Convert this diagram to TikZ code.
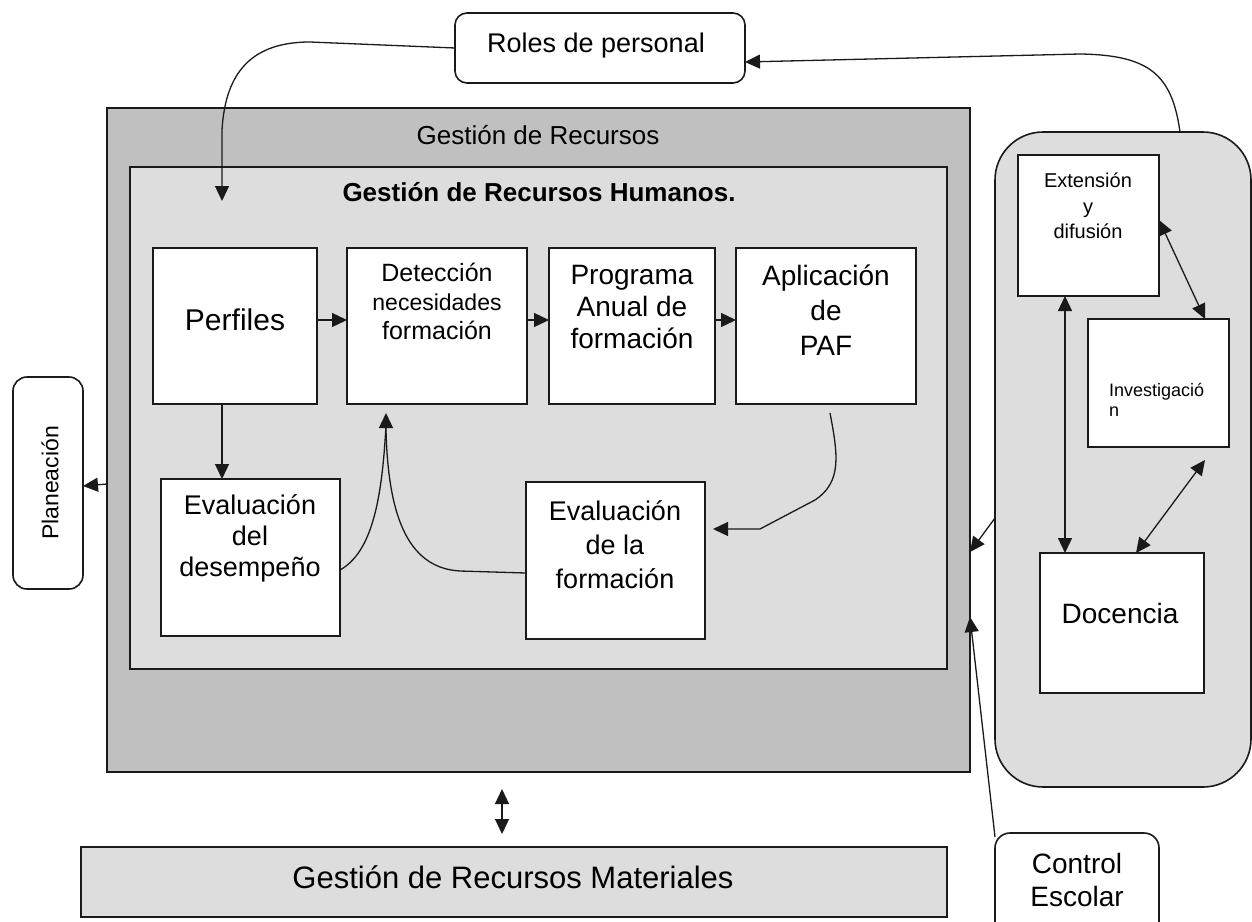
\documentclass[tikz,border=0pt]{standalone}
\usepackage{fontspec}
\setmainfont{Liberation Sans}
\usetikzlibrary{arrows.meta,calc}
\newcommand{\fsz}[1]{\fontsize{#1}{#1}\selectfont}
\definecolor{outergray}{HTML}{C0C0C0}
\definecolor{innergray}{HTML}{DDDDDD}
\definecolor{edge}{HTML}{1A1A1A}
\tikzset{
  bx/.style={draw=edge, line width=1.6pt, inner sep=0pt, outer sep=0pt, fill=white},
  txt/.style={inner sep=0pt, outer sep=0pt, align=center, text=black},
  conn/.style={draw=edge, line width=1.3pt},
  arr/.style={conn, -{Triangle[length=15pt,width=14pt]}},
  darr/.style={conn, {Triangle[length=15pt,width=14pt]}-{Triangle[length=15pt,width=14pt]}},
}
\begin{document}
\begin{tikzpicture}[x=1pt,y=-1pt]
\clip (0,0) rectangle (1252,921);
\fill[white] (0,0) rectangle (1252,921);

% containers
\node[bx, fill=outergray, minimum width=863pt, minimum height=664pt] (outer) at (538.5,440) {};
\node[bx, fill=innergray, minimum width=817pt, minimum height=502pt] (inner) at (538.5,418) {};
\node[bx, fill=innergray, rounded corners=48pt, minimum width=256pt, minimum height=655pt] (cont) at (1123,459.5) {};
\node[bx, fill=innergray, minimum width=866pt, minimum height=70pt] (mat) at (514,882) {};

% boxes
\node[bx, rounded corners=12pt, minimum width=290pt, minimum height=70pt] (roles) at (600,48) {};
\node[bx, rounded corners=14pt, minimum width=70pt, minimum height=212pt] (plan) at (48,483) {};
\node[bx, minimum width=164pt, minimum height=156pt] (perf) at (235,326) {};
\node[bx, minimum width=180pt, minimum height=156pt] (det) at (437,326) {};
\node[bx, minimum width=166pt, minimum height=156pt] (prog) at (632,326) {};
\node[bx, minimum width=180pt, minimum height=156pt] (apl) at (826,326) {};
\node[bx, minimum width=179pt, minimum height=157pt] (evd) at (250.5,557.5) {};
\node[bx, minimum width=179pt, minimum height=157pt] (evf) at (615.5,560.5) {};
\node[bx, minimum width=141pt, minimum height=141pt] (ext) at (1088.5,225.5) {};
\node[bx, minimum width=141pt, minimum height=128pt] (inv) at (1158.5,383) {};
\node[bx, minimum width=164pt, minimum height=140pt] (doc) at (1122,623) {};
\node[bx, rounded corners=15pt, minimum width=164pt, minimum height=117pt] (ctrl) at (1077,891.5) {};

% texts
\node[txt] (tRoles) at (596,46) {\fsz{27}Roles de personal};
\node[txt] (tOuter) at (538,135) {\fsz{26}Gestión de Recursos};
\node[txt] (tInner) at (539,192) {\fsz{26}\bfseries Gestión de Recursos Humanos.};
\node[txt] (tPerf) at (235,320) {\fsz{30}Perfiles};
\node[txt, font=\fontsize{25}{29}\selectfont] (tDet) at (437,301) {Detección\\\fontsize{23}{29}\selectfont necesidades\\\fontsize{25}{29}\selectfont formación};
\node[txt, font=\fontsize{28}{32}\selectfont] (tProg) at (632,307) {Programa\\Anual de\\formación};
\node[txt, font=\fontsize{28}{35}\selectfont] (tApl) at (826,310) {Aplicación\\de\\PAF};
\node[txt, font=\fontsize{27}{31}\selectfont] (tEvd) at (250,538) {Evaluación\\del\\desempeño};
\node[txt, font=\fontsize{27}{34}\selectfont] (tEvf) at (615,545) {Evaluación\\de la\\formación};
\node[txt, font=\fontsize{20}{25.5}\selectfont] (tExt) at (1088,206) {Extensión\\y\\difusión};
\node[txt, align=left, anchor=west, font=\fontsize{18}{20}\selectfont] (tInv) at (1109,400) {Investigació\\n};
\node[txt] (tDoc) at (1120,613) {\fsz{28}Docencia};
\node[txt, font=\fontsize{28}{33}\selectfont] (tCtrl) at (1077,880) {Control\\Escolar};
\node[txt, rotate=90] (tPlan) at (50,483) {\fsz{23}Planeación};
\node[txt] (tMat) at (513,877) {\fsz{31}Gestión de Recursos Materiales};

% free-end coordinates
\coordinate (rolesIn) at (222,201);
\coordinate (detIn) at (386,413);
\coordinate (evfIn) at (713,529);
\coordinate (aplOut) at (830,413);
\coordinate (invOut) at (1205,460);
\coordinate (m1) at (502,789);
\coordinate (m2) at (502,834);

% connectors
\draw[arr] (roles.west) -- (310,42) .. controls (245,42) and (225,80) .. (222,130) -- (rolesIn);
\draw[arr] ([xshift=57pt]cont.north) .. controls (1172,75) and (1150,55) .. (1080,54) -- ([yshift=-14pt]roles.east);
\draw[arr] (perf.east |- 0,320) -- (det.west |- 0,320);
\draw[arr] (det.east |- 0,320) -- (prog.west |- 0,320);
\draw[arr] (prog.east |- 0,320) -- (apl.west |- 0,320);
\draw[arr] (perf.south -| rolesIn) -- (evd.north -| rolesIn);
\draw[arr] (outer.west |- 0,484) -- (plan.east |- 0,486);
\draw[arr] (aplOut) .. controls (838,455) and (842,482) .. (815,500) -- (760,529) -- (evfIn);
\draw[conn] (evd.east |- 0,570) .. controls (372,552) and (382,500) .. (386,425);
\draw[arr] (evf.west |- 0,573) -- (460,571) .. controls (405,568) and (388,510) .. (386,430) -- (detIn);
\draw[arr] (cont.west |- 0,518) -- (outer.east |- 0,552);
\draw[arr] ([yshift=-4pt]ctrl.north west) -- (outer.east |- 0,617);
\draw[darr] (ext.south -| 1065,0) -- (doc.north -| 1065,0);
\draw[darr] (ext.east |- 0,220) -- (inv.north -| 1205,0);
\draw[darr] (invOut) -- (doc.north -| 1136,0);
\draw[darr] (m1) -- (m2);
\end{tikzpicture}
\end{document}
